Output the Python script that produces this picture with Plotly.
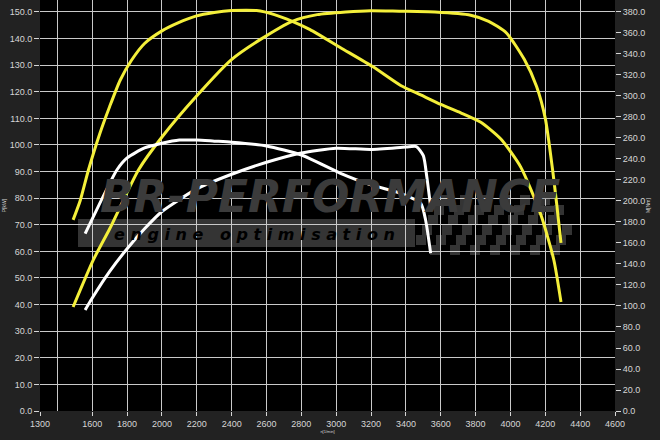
import plotly.graph_objects as go

# ---------------- data ----------------
# tuned (yellow) power, left axis
tuned_power_rpm = [1490, 1606, 1700, 1865, 2000, 2200, 2399, 2563, 2748, 2891, 3055, 3198,
                   3362, 3567, 3772, 3875, 3977, 4080, 4150, 4200, 4242, 4265, 4290]
tuned_power = [39.1, 56.8, 68.5, 90.6, 103.0, 118.5, 132.1, 139.6, 146.5, 149.0, 150.0, 150.5,
               150.3, 150.0, 148.8, 146.5, 142.1, 132.1, 122.0, 110.0, 90.6, 78.0, 63.2]

# tuned (yellow) torque, right axis
tuned_torque_rpm = [1490, 1530, 1578, 1645, 1700, 1760, 1825, 1900, 2000, 2092, 2194, 2300,
                    2400, 2543, 2645, 2748, 2850, 3025, 3209, 3370, 3485, 3600, 3715, 3830,
                    3945, 4060, 4175, 4249, 4290]
tuned_torque = [182, 200, 229.5, 265, 290, 315, 334, 350, 362, 369.6, 376, 379.5,
                381.3, 381.3, 377.5, 371.1, 363.2, 346, 328, 310, 301, 292, 284, 275,
                259, 232, 186.6, 143.8, 103.8]

# stock (white) power, left axis
stock_power_rpm = [1559, 1600, 1700, 1800, 1900, 2000, 2200, 2400, 2600, 2800, 3000, 3200,
                   3400, 3460, 3500, 3520, 3542]
stock_power = [38.0, 42.5, 52.5, 61.0, 68.5, 75.0, 83.5, 89.0, 93.5, 97.0, 98.8, 98.3,
               99.2, 99.4, 96.0, 88.0, 76.7]

# stock (white) torque, right axis
stock_torque_rpm = [1559, 1600, 1741, 1800, 1900, 2000, 2100, 2200, 2300, 2400, 2600, 2800,
                    3025, 3200, 3370, 3485, 3513, 3542]
stock_torque = [169, 183, 229.5, 241, 250.5, 255, 258, 258, 257, 256, 252.4, 243.8,
                226.4, 215.3, 207.3, 197.8, 181.9, 150.2]

x_label_ticks = [1300] + list(range(1600, 4601, 200))
x_grid_ticks = list(range(1400, 4401, 200))
left_ticks = list(range(0, 151, 10))
right_ticks = list(range(0, 381, 20))

YELLOW = "#f4ef3a"
WHITE = "#ffffff"
TXT = "#d6d6d6"
GRID = "#c9c9c9"
FONT = "Liberation Sans, Arial, sans-serif"

fig = go.Figure()
line_kw = dict(mode="lines", hoverinfo="skip", showlegend=False)
spl = dict(width=3, shape="spline", smoothing=0.6)
fig.add_trace(go.Scatter(x=tuned_power_rpm, y=tuned_power, yaxis="y",
                         line=dict(color=YELLOW, **spl), **line_kw))
fig.add_trace(go.Scatter(x=tuned_torque_rpm, y=tuned_torque, yaxis="y2",
                         line=dict(color=YELLOW, **spl), **line_kw))
fig.add_trace(go.Scatter(x=stock_power_rpm, y=stock_power, yaxis="y",
                         line=dict(color=WHITE, **spl), **line_kw))
fig.add_trace(go.Scatter(x=stock_torque_rpm, y=stock_torque, yaxis="y2",
                         line=dict(color=WHITE, **spl), **line_kw))
# carrier trace so the labelled x axis is drawn
fig.add_trace(go.Scatter(x=[x_label_ticks[0], x_label_ticks[-1]], y=[None, None],
                         xaxis="x2", yaxis="y", **line_kw))

LTOP = 154.5
RTOP = LTOP * 380 / 150

fig.update_layout(
    width=660, height=440,
    margin=dict(l=40, r=45, t=0, b=29, autoexpand=False),
    paper_bgcolor="#222222",
    plot_bgcolor="#000000",
    font=dict(family=FONT, size=9, color=TXT),
    showlegend=False,
    xaxis=dict(range=[1300, 4600], tickvals=x_grid_ticks, showticklabels=False,
               showgrid=True, gridcolor=GRID, gridwidth=1, zeroline=False, ticks="",
               showline=False, fixedrange=True),
    xaxis2=dict(range=[1300, 4600], overlaying="x", side="bottom", anchor="y",
                tickvals=x_label_ticks, ticktext=[str(v) for v in x_label_ticks],
                showgrid=False, zeroline=False, ticks="outside", ticklen=4, tickcolor=TXT,
                tickfont=dict(size=9, color=TXT), showline=False,
                title=dict(text="n[1/min]", font=dict(size=4, color=TXT), standoff=1)),
    yaxis=dict(range=[0, LTOP], tickvals=left_ticks, tickformat=".1f",
               showgrid=True, gridcolor=GRID, gridwidth=1, zeroline=False,
               ticks="outside", ticklen=5, tickcolor=TXT, showline=False,
               title=dict(text="P[kW]", font=dict(size=5, color=TXT), standoff=2)),
    yaxis2=dict(range=[0, RTOP], tickvals=right_ticks, tickformat=".1f",
                overlaying="y", side="right", showgrid=False, zeroline=False,
                ticks="outside", ticklen=5, tickcolor=TXT, showline=False,
                title=dict(text="M[Nm]", font=dict(size=5, color=TXT), standoff=2)),
)

# ---- watermark logo (decoration) ----
PW, PH = 575.0, 411.0   # plot area size in px


def px2paper(px, py):
    return (px - 40) / PW, (PH - py) / PH


# checkered flag
sq = 10
for j in range(6):
    for i in range(18):
        if (i + j) % 2:
            continue
        cx0 = 400 + i * sq + j * 4
        cy0 = 195 + j * sq
        if cx0 + sq > 578 - (5 - j) * 3:
            continue
        if cx0 < 410 + (5 - j) * 6:
            continue
        x0, y1 = px2paper(cx0, cy0)
        x1, y0 = px2paper(cx0 + sq, cy0 + sq)
        fig.add_shape(type="rect", xref="paper", yref="paper", x0=x0, x1=x1, y0=y0, y1=y1,
                      fillcolor="#343434", line=dict(width=0), layer="below")

bx0, by1 = px2paper(78, 219)
bx1, by0 = px2paper(415, 247)
fig.add_shape(type="rect", xref="paper", yref="paper", x0=bx0, x1=bx1, y0=by0, y1=by1,
              fillcolor="#343434", line=dict(width=0), layer="below")
tx, ty = px2paper(330, 196)
fig.add_annotation(xref="paper", yref="paper", x=tx, y=ty, xanchor="center", yanchor="middle",
                   showarrow=False, text="<b><i>BR-PERFORMANCE</i></b>",
                   font=dict(family="DejaVu Sans, sans-serif", size=44, color="#3b3b3b"))
ex, ey = px2paper(254, 234)
fig.add_annotation(xref="paper", yref="paper", x=ex, y=ey, xanchor="center", yanchor="middle",
                   showarrow=False,
                   text="<b><i>e n g i n e   o p t i m i s a t i o n</i></b>",
                   font=dict(family="DejaVu Sans, sans-serif", size=16, color="#000000"))

fig.write_html("out.html", post_script="document.body.style.margin='0';",
               config={"displayModeBar": False})
